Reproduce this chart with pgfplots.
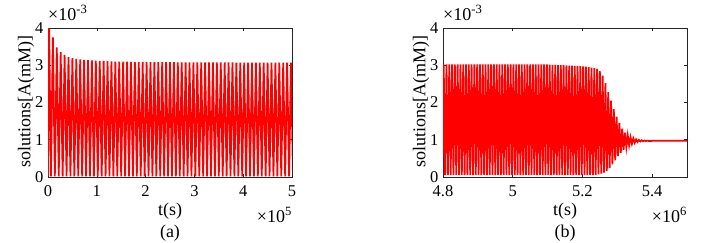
\documentclass[border=0pt]{standalone}
\usepackage{fontspec}
\setmainfont{Liberation Serif}
\usepackage{pgfplots}
\pgfplotsset{compat=1.18}
\definecolor{axgray}{RGB}{38,38,38}
\pgfplotsset{
  mystyle/.style={
    scale only axis, width=244pt, height=149pt,
    anchor=south west,
    axis line style={axgray, line width=0.7pt},
    tick style={axgray, line width=0.6pt},
    major tick length=3pt,
    tick align=inside, tick pos=both,
    ymin=0, ymax=4, ytick={0,1,2,3,4},
    scaled ticks=false,
    /pgf/number format/assume math mode=true,
    tick label style={font=\fontsize{16.5}{19}\selectfont, text=black},
    xticklabel style={inner sep=0pt, yshift=-8pt},
    yticklabel style={inner sep=0pt, xshift=-4.5pt},
    clip=true,
  }
}
\begin{document}
\begin{tikzpicture}
\useasboundingbox (0,0) rectangle (712pt,242pt);
% panel (a)
\begin{axis}[mystyle, at={(48pt,65pt)}, xmin=0, xmax=5, xtick={0,1,2,3,4,5}]
\addplot[red, line width=1.75pt, line join=miter] coordinates {
(0,0.02) (0.02,4.3) (0.06,0.02) (0.10,3.75) (0.14,0.02) (0.18,3.48) (0.22,0.02) (0.26,3.35) (0.30,0.02) (0.34,3.28) (0.38,0.02) (0.42,3.22) (0.46,0.02) (0.50,3.19) (0.54,0.02) (0.58,3.17) (0.62,0.02) (0.66,3.155) (0.70,0.02) (0.74,3.145) (0.78,0.02) (0.82,3.135) (0.86,0.02) (0.90,3.13) (0.94,0.02) (0.98,3.125) (1.02,0.02) (1.06,3.12) (1.10,0.02) (1.14,3.115) (1.18,0.02)
(1.22,3.11) (1.26,0.02) (1.30,3.105) (1.34,0.02) (1.38,3.10) (1.42,0.02) (1.46,3.10) (1.50,0.02) (1.54,3.098) (1.58,0.02) (1.62,3.095) (1.66,0.02) (1.70,3.093) (1.74,0.02) (1.78,3.09) (1.82,0.02) (1.86,3.09) (1.90,0.02) (1.94,3.088) (1.98,0.02)
(2.02,3.087) (2.06,0.02) (2.10,3.086) (2.14,0.02) (2.18,3.085) (2.22,0.02) (2.26,3.084) (2.30,0.02) (2.34,3.083) (2.38,0.02) (2.42,3.082) (2.46,0.02) (2.50,3.082) (2.54,0.02) (2.58,3.081) (2.62,0.02) (2.66,3.08) (2.70,0.02) (2.74,3.08) (2.78,0.02) (2.82,3.079) (2.86,0.02) (2.90,3.079) (2.94,0.02) (2.98,3.078) (3.02,0.02)
(3.06,3.078) (3.10,0.02) (3.14,3.077) (3.18,0.02) (3.22,3.077) (3.26,0.02) (3.30,3.076) (3.34,0.02) (3.38,3.076) (3.42,0.02) (3.46,3.075) (3.50,0.02) (3.54,3.075) (3.58,0.02) (3.62,3.074) (3.66,0.02) (3.70,3.074) (3.74,0.02) (3.78,3.074) (3.82,0.02) (3.86,3.073) (3.90,0.02) (3.94,3.073) (3.98,0.02)
(4.02,3.073) (4.06,0.02) (4.10,3.072) (4.14,0.02) (4.18,3.072) (4.22,0.02) (4.26,3.072) (4.30,0.02) (4.34,3.071) (4.38,0.02) (4.42,3.071) (4.46,0.02) (4.50,3.071) (4.54,0.02) (4.58,3.07) (4.62,0.02) (4.66,3.07) (4.70,0.02) (4.74,3.07) (4.78,0.02) (4.82,3.07) (4.86,0.02) (4.90,3.07) (4.94,0.02) (4.98,3.07) (5.02,0.02)
};
\end{axis}
% panel (b)
\begin{axis}[mystyle, at={(443pt,65pt)}, xmin=4.8, xmax=5.5, xtick={4.8,5,5.2,5.4}, xticklabels={4.8,5,5.2,5.4}]
\addplot[red, line width=1.75pt, line join=miter] coordinates {
(4.798,0.05)
(4.802,3.02) (4.806,0.05) (4.810,3.02) (4.814,0.05) (4.818,3.02) (4.822,0.05) (4.826,3.02) (4.830,0.05) (4.834,3.02) (4.838,0.05) (4.842,3.02) (4.846,0.05) (4.850,3.02) (4.854,0.05) (4.858,3.02) (4.862,0.05) (4.866,3.02) (4.870,0.05) (4.874,3.02) (4.878,0.05)
(4.882,3.02) (4.886,0.05) (4.890,3.02) (4.894,0.05) (4.898,3.02) (4.902,0.05) (4.906,3.02) (4.910,0.05) (4.914,3.02) (4.918,0.05) (4.922,3.02) (4.926,0.05) (4.930,3.02) (4.934,0.05) (4.938,3.02) (4.942,0.05) (4.946,3.02) (4.950,0.05) (4.954,3.02) (4.958,0.05)
(4.962,3.02) (4.966,0.05) (4.970,3.02) (4.974,0.05) (4.978,3.02) (4.982,0.05) (4.986,3.02) (4.990,0.05) (4.994,3.02) (4.998,0.05) (5.002,3.02) (5.006,0.05) (5.010,3.02) (5.014,0.05) (5.018,3.02) (5.022,0.05) (5.026,3.02) (5.030,0.05) (5.034,3.02) (5.038,0.05)
(5.042,3.02) (5.046,0.05) (5.050,3.02) (5.054,0.05) (5.058,3.02) (5.062,0.05) (5.066,3.02) (5.070,0.05) (5.074,3.02) (5.078,0.05) (5.082,3.02) (5.086,0.05) (5.090,3.02) (5.094,0.05) (5.098,3.02) (5.102,0.05)
(5.106,3.015) (5.110,0.05) (5.114,3.01) (5.118,0.05) (5.122,3.01) (5.126,0.05) (5.130,3.005) (5.134,0.05) (5.138,3.00) (5.142,0.05) (5.146,3.00) (5.150,0.05) (5.154,2.995) (5.158,0.05) (5.162,2.99) (5.166,0.05) (5.170,2.99) (5.174,0.05) (5.178,2.985) (5.182,0.05)
(5.186,2.98) (5.190,0.05) (5.194,2.975) (5.198,0.05) (5.202,2.97) (5.206,0.05) (5.210,2.96) (5.214,0.05) (5.218,2.95) (5.222,0.05) (5.226,2.935) (5.230,0.05) (5.234,2.92) (5.238,0.05) (5.242,2.90) (5.246,0.07)
(5.250,2.84) (5.254,0.09) (5.258,2.72) (5.262,0.12) (5.266,2.52) (5.270,0.16) (5.274,2.28) (5.278,0.24) (5.282,2.05) (5.286,0.34) (5.290,1.82) (5.294,0.45) (5.298,1.62) (5.302,0.56) (5.306,1.45) (5.310,0.65) (5.314,1.30) (5.318,0.73)
(5.322,1.19) (5.326,0.80) (5.330,1.12) (5.334,0.85) (5.338,1.07) (5.342,0.89) (5.346,1.035) (5.350,0.92) (5.354,1.01) (5.358,0.94) (5.362,0.995) (5.366,0.955) (5.370,0.985) (5.374,0.962) (5.378,0.978) (5.382,0.966) (5.386,0.975) (5.390,0.968)
(5.40,0.97) (5.45,0.97) (5.51,0.97)
};
\end{axis}
% labels
\begin{scope}[every node/.style={inner sep=0pt, font=\fontsize{18}{21}\selectfont}]
\node[rotate=90] at (26pt,140pt) {solutions[A(mM)]};
\node[rotate=90] at (421pt,140pt) {solutions[A(mM)]};
\node at (170pt,31pt) {t(s)};
\node at (565pt,31pt) {t(s)};
\node at (170pt,9pt) {(a)};
\node at (565pt,9pt) {(b)};
\node[anchor=base west] at (48pt,222pt) {×10\textsuperscript{-3}};
\node[anchor=base west] at (443pt,222pt) {×10\textsuperscript{-3}};
\node[anchor=base east] at (292pt,20pt) {×10\textsuperscript{5}};
\node[anchor=base east] at (687pt,20pt) {×10\textsuperscript{6}};
\end{scope}
\end{tikzpicture}
\end{document}
